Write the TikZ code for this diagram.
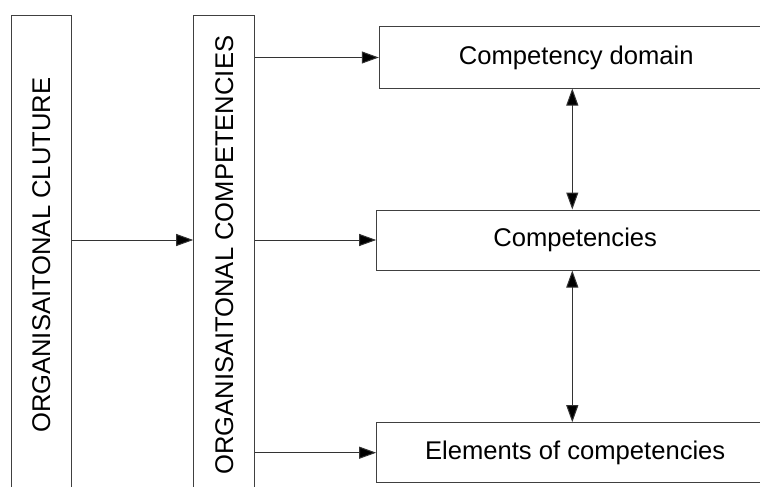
\documentclass[tikz,border=0pt]{standalone}
\usepackage{fontspec}
\setmainfont{Liberation Sans}
\usetikzlibrary{arrows.meta}
\tikzset{
  box/.style={draw=black!75, line width=1pt, rectangle, inner sep=0pt},
  lbl/.style={inner sep=0pt, font=\fontsize{25.6}{30}\selectfont},
  tip/.tip={Triangle[length=17pt,width=12pt,fill=black]},
  arr/.style={draw=black!80, line width=1pt, -tip},
  dbl/.style={draw=black!80, line width=1pt, tip-tip}
}
\begin{document}
\begin{tikzpicture}[x=1pt,y=-1pt]
\useasboundingbox (0,0) rectangle (760,487);
\clip (0,0) rectangle (760,487);
\fill[white] (0,0) rectangle (760,487);
% left tall boxes
\node[box, minimum width=60.3pt, minimum height=480pt] (L) at (41.2,255.3) {};
\node[lbl, rotate=90] (Lt) at (L.center) {ORGANISAITONAL CLUTURE};
\node[box, minimum width=61pt, minimum height=480pt] (M) at (224.2,255.3) {};
\node[lbl, rotate=90] (Mt) at (M.center) {ORGANISAITONAL COMPETENCIES};
% right boxes
\node[box, lbl, minimum width=394pt, minimum height=61pt] (D) at (576.3,57.5) {Competency domain};
\node[box, lbl, minimum width=397pt, minimum height=60pt] (C) at (575.2,240) {Competencies};
\node[box, lbl, minimum width=397pt, minimum height=60pt] (E) at (575.2,452.7) {Elements of competencies};
\coordinate (vx) at (572.3,0);
% connectors
\draw[arr] (L.east |- C.west) -- (M.west |- C.west);
\draw[arr] (M.east |- D.west) -- (D.west);
\draw[arr] (M.east |- C.west) -- (C.west);
\draw[arr] (M.east |- E.west) -- (E.west);
\draw[dbl] (D.south -| vx) -- (C.north -| vx);
\draw[dbl] (C.south -| vx) -- (E.north -| vx);
\end{tikzpicture}
\end{document}
